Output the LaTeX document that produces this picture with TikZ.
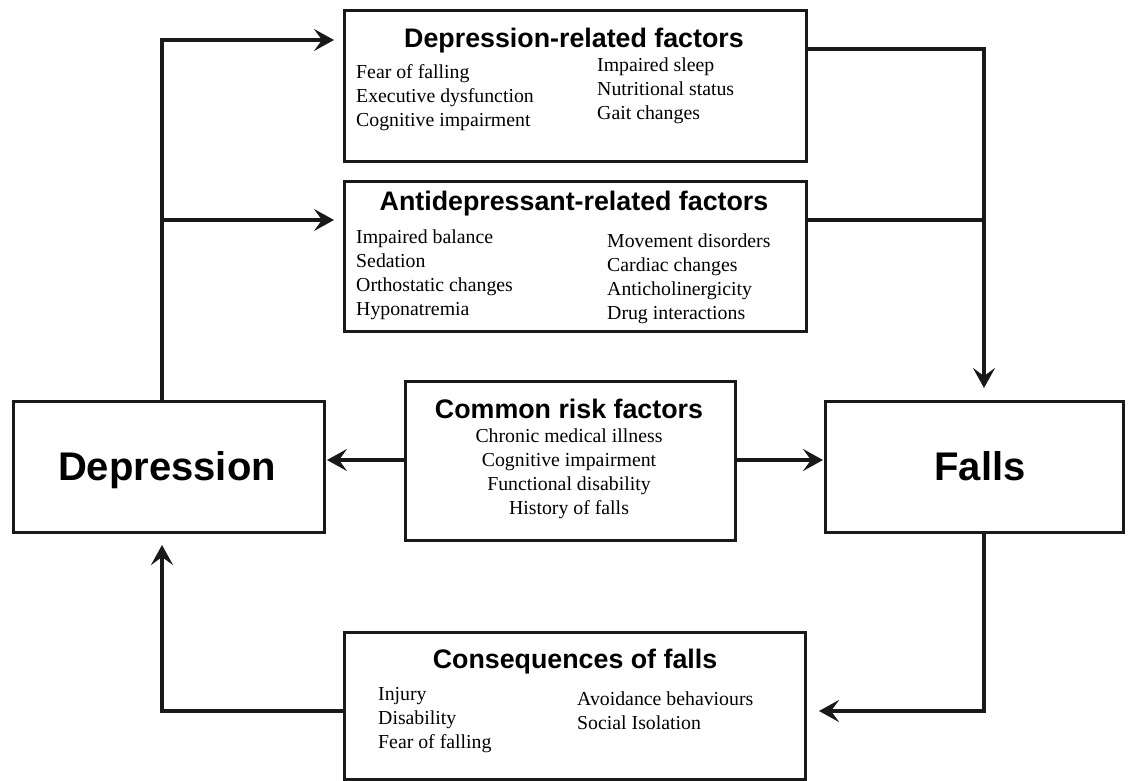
\documentclass[tikz,border=0pt]{standalone}
\usepackage{fontspec}
\setmainfont{Liberation Serif}
\newfontfamily\hdfont{Liberation Sans}
\usetikzlibrary{arrows.meta}
\begin{document}
\begin{tikzpicture}[x=1pt,y=-1pt,
  box/.style={draw=black!90, line width=3pt, rectangle, inner sep=0pt, anchor=north west},
  conn/.style={draw=black!90, line width=3.6pt, line join=miter},
  arr/.style={conn, -{Stealth[length=20pt,width=22pt,inset=8pt]}},
  head/.style={font=\hdfont\bfseries\fontsize{26.8}{30}\selectfont, anchor=base, inner sep=0pt},
  big/.style={font=\hdfont\bfseries\fontsize{40}{44}\selectfont, anchor=base, inner sep=0pt},
  item/.style={font=\fontsize{19.8}{24}\selectfont, anchor=base west, inner sep=0pt, align=left},
  citem/.style={font=\fontsize{19.8}{24}\selectfont, anchor=base, inner sep=0pt}
]
\useasboundingbox[fill=white] (0,0) rectangle (1132,781);

% boxes
\node[box, minimum width=462pt, minimum height=151pt] (dr) at (343,9) {};
\node[box, minimum width=462pt, minimum height=150pt] (ad) at (343,180) {};
\node[box, minimum width=311pt, minimum height=131pt] (dep) at (12,400) {};
\node[box, minimum width=330pt, minimum height=159pt] (cr) at (404,380) {};
\node[box, minimum width=298pt, minimum height=131pt] (fa) at (824,400) {};
\node[box, minimum width=461pt, minimum height=147pt] (cons) at (343,631) {};

% texts
\node[big] (tdep) at (167,480) {Depression};
\node[big] (tfa) at (980,480) {Falls};

\node[head] (hdr) at (574,48) {Depression-related factors};
\node[item] (dr1) at (356,79) {Fear of falling};
\node[item] (dr2) at (356,103) {Executive dysfunction};
\node[item] (dr3) at (356,127) {Cognitive impairment};
\node[item] (dr4) at (597,72) {Impaired sleep};
\node[item] (dr5) at (597,96) {Nutritional status};
\node[item] (dr6) at (597,120) {Gait changes};

\node[head] (had) at (574,210) {Antidepressant-related factors};
\node[item] (ad1) at (356,243) {Impaired balance};
\node[item] (ad2) at (356,267) {Sedation};
\node[item] (ad3) at (356,291) {Orthostatic changes};
\node[item] (ad4) at (356,315) {Hyponatremia};
\node[item] (ad5) at (607,247) {Movement disorders};
\node[item] (ad6) at (607,271) {Cardiac changes};
\node[item] (ad7) at (607,295) {Anticholinergicity};
\node[item] (ad8) at (607,319) {Drug interactions};

\node[head] (hcr) at (569,418) {Common risk factors};
\node[citem] (cr1) at (569,442) {Chronic medical illness};
\node[citem] (cr2) at (569,466) {Cognitive impairment};
\node[citem] (cr3) at (569,490) {Functional disability};
\node[citem] (cr4) at (569,514) {History of falls};

\node[head] (hcons) at (575,668) {Consequences of falls};
\node[item] (cs1) at (378,700) {Injury};
\node[item] (cs2) at (378,724) {Disability};
\node[item] (cs3) at (378,748) {Fear of falling};
\node[item] (cs4) at (577,705) {Avoidance behaviours};
\node[item] (cs5) at (577,729) {Social Isolation};

% junctions
\coordinate (j1) at (162,40);
\coordinate (j2) at (162,220);
\coordinate (j3) at (984,49);
\coordinate (j4) at (984,220);
\coordinate (j5) at (984,711);
\coordinate (j6) at (162,711);
\coordinate (m1) at (0,460);

% connectors
\draw[arr, shorten >=9pt] (dep.north -| j1) -- (j1) -- (dr.west |- j1);
\draw[arr, shorten >=9pt] (j2) -- (ad.west |- j2);
\draw[arr, shorten >=12pt] (dr.east |- j3) -- (j3) -- (fa.north -| j3);
\draw[conn] (ad.east |- j4) -- (j4);
\draw[arr, shorten >=1pt] (cr.west |- m1) -- (dep.east |- m1);
\draw[arr, shorten >=1pt] (cr.east |- m1) -- (fa.west |- m1);
\draw[arr, shorten >=12pt] (fa.south -| j5) -- (j5) -- (cons.east |- j5);
\draw[arr, shorten >=11pt] (cons.west |- j6) -- (j6) -- (dep.south -| j6);
\end{tikzpicture}
\end{document}
